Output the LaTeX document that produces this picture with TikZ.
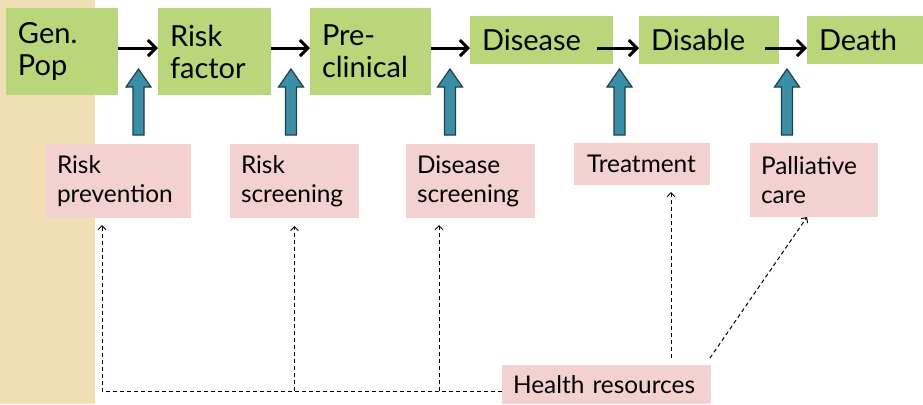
\documentclass[tikz,border=0pt]{standalone}
\usepackage{fontspec}
\setmainfont{Lato}
\usepackage{tikz}
\usetikzlibrary{positioning}
\usetikzlibrary {arrows.meta}
\definecolor{stagegreen}{RGB}{185,215,122}
\definecolor{actionpink}{RGB}{244,209,209}
\definecolor{blockteal}{RGB}{58,143,166}
\definecolor{blockedge}{RGB}{30,62,74}
\definecolor{stripbeige}{RGB}{240,223,180}
\tikzset{stage/.style={rectangle,draw=none,fill=stagegreen,
inner xsep=6pt,inner ysep=0pt,outer sep=0pt,align=left,
font=\fontsize{14.5}{16}\selectfont}}
\tikzset{stagetall/.style={stage,minimum height=43.5pt}}
\tikzset{stageshort/.style={stage,minimum height=24pt}}
\tikzset{action/.style={rectangle,draw=none,fill=actionpink,
inner xsep=5.5pt,inner ysep=0pt,outer sep=0pt,align=left,
font=\fontsize{12.2}{14.5}\selectfont}}
\tikzset{flow/.style={line width=1.5pt,-{Straight Barb[length=4pt,width=8pt]}}}
\tikzset{resline/.style={line width=0.5pt,dash pattern=on 2pt off 1.5pt,
-{Straight Barb[length=2pt,width=4pt]}}}
\tikzset{uparrow/.style={fill=blockteal,draw=blockedge,line width=0.6pt,line join=miter}}

\begin{document}
\begin{tikzpicture}[x=0.5pt,y=-0.5pt]

        \useasboundingbox (0,0) rectangle (923,404);
        \fill[stripbeige] (0,0) rectangle (95,404);

        % disease stages
        \node[stagetall,anchor=north west,text width=44pt] (genpop) at (6,8) {Gen.\\Pop};
        \node[stagetall,text width=44.5pt] (riskf) [right=20pt of genpop] {Risk\\factor};
        \node[stagetall,text width=48.5pt] (precl) [right=19.5pt of riskf] {Pre-\\clinical};
        \node[stageshort,anchor=north west,text width=59.5pt] (dis) at (470,16) {Disease};
        \node[stageshort,text width=58pt] (disab) [right=13pt of dis] {Disable};
        \node[stageshort,anchor=north west,text width=46pt] (death) at (807,16) {Death};

        \draw[flow] ([yshift=1.75pt]genpop.east) -- ([yshift=1.75pt]riskf.west);
        \draw[flow] ([yshift=1.75pt]riskf.east) -- ([yshift=1.75pt]precl.west);
        \draw[flow] ([yshift=1.75pt]precl.east) -- ([yshift=-4pt]dis.west);
        \draw[flow] ([xshift=-8pt,yshift=-4pt]dis.east) -- ([yshift=-4pt]disab.west);
        \draw[flow] ([xshift=-7pt,yshift=-4pt]disab.east) -- ([yshift=-4pt]death.west);

        % interventions
        \node[action,anchor=north west,minimum height=37pt,text width=61.5pt] (prev) at (46,144) {Risk\\prevention};
        \node[action,minimum height=37pt,text width=53.5pt] (rscr) [right=19.5pt of prev] {Risk\\screening};
        \node[action,minimum height=37pt,text width=53.5pt] (dscr) [right=23.5pt of rscr] {Disease\\screening};
        \node[action,anchor=north west,minimum height=21pt,text width=57pt] (treat) at (574,143) {\hspace*{1pt}Treatment};
        \node[action,anchor=north west,minimum height=37pt,text width=53pt] (pall) at (750,143) {Palliative\\care};

        \foreach \cx in {138.5,291,450,619.5,787}
            \draw[uparrow] (\cx-5.5,135) -- (\cx-5.5,87) -- (\cx-12.5,87) -- (\cx,69)
                -- (\cx+12.5,87) -- (\cx+5.5,87) -- (\cx+5.5,135) -- cycle;

        % resources
        \node[action,anchor=north west,minimum height=19.5pt,text width=93.5pt] (hr) at (502,365) {Health resources};

        \coordinate (hrline) at ([yshift=-3.25pt]hr.west);
        \coordinate (hrtop) at ([yshift=3.5pt]hr.north);
        \coordinate (rscrtip) at ([yshift=-4pt]rscr.south);
        \coordinate (dscrtip) at ([xshift=16.5pt,yshift=-3.5pt]dscr.south west);
        \coordinate (treattip) at ([xshift=-19.5pt,yshift=-3.5pt]treat.south east);

        \draw[resline] (hrline) -| ([xshift=28pt,yshift=-3.5pt]prev.south west);
        \draw[resline] (rscrtip |- hrline) -- (rscrtip);
        \draw[resline] (dscrtip |- hrline) -- (dscrtip);
        \draw[resline] (treattip |- hrtop) -- (treattip);
        \draw[resline] ([xshift=-0.5pt,yshift=3.5pt]hr.north east) -- ([xshift=-3.5pt]pall.south);

    \end{tikzpicture}
\end{document}
